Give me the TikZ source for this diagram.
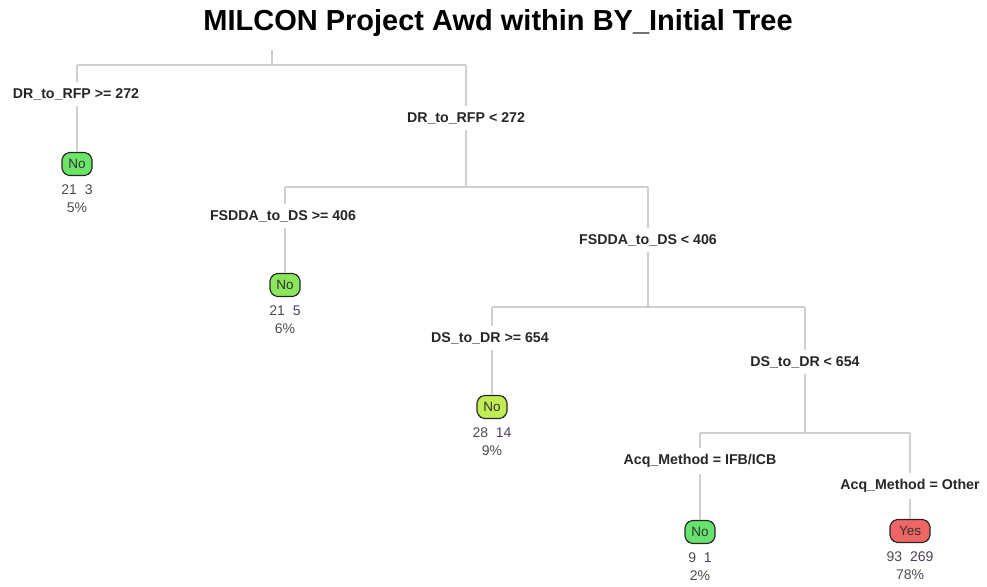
\documentclass[tikz,border=0pt]{standalone}
\usepackage{fontspec}
\setmainfont{Liberation Sans}
\usetikzlibrary{positioning, shapes.misc}
\begin{document}
\begin{tikzpicture}[
  x=1pt, y=-1pt,
  branch/.style={draw=gray!38, line width=1.2pt},
  splitlbl/.style={font=\fontsize{14.2}{16}\selectfont\bfseries, inner xsep=0pt, inner ysep=6pt, text=black!85},
  leafbox/.style={chamfered rectangle, chamfered rectangle xsep=2.5pt, chamfered rectangle sep=2.5pt,
                  draw=black!85, line width=1.1pt, rounded corners=2pt, minimum height=23pt,
                  minimum width=30pt, inner sep=1.5pt, font=\fontsize{13.5}{15}\selectfont, text=black!80},
  cntlbl/.style={font=\fontsize{14}{18}\selectfont, align=center, inner sep=0pt, text=black!70},
  titlelbl/.style={font=\fontsize{29}{32}\selectfont\bfseries},
]

%% ── Colours ──────────────────────────────────────────────────────────────────
\definecolor{noFillA}{RGB}{108,228,104}
\definecolor{noFillB}{RGB}{140,230,92}
\definecolor{noFillC}{RGB}{192,236,84}
\definecolor{noFillD}{RGB}{104,226,110}
\definecolor{yesFill}{RGB}{240,102,100}
\definecolor{cntTwo}{RGB}{78,62,90}

\useasboundingbox (0,0) rectangle (987,586);

%% ── Title ────────────────────────────────────────────────────────────────────
\node[titlelbl] (title) at (498,23) {MILCON Project Awd within BY\_Initial Tree};

%% ── Split 1 — DR_to_RFP ──────────────────────────────────────────────────────
\coordinate (root) at (272,50);
\coordinate (bar1) at (272,65);
\coordinate (bar1l) at (77,65);
\coordinate (bar1r) at (466,65);
\draw[branch] (root) -- (bar1);
\draw[branch] (bar1l) -- (bar1r);

\node[splitlbl] (drHi) at (76,94)  {DR\_to\_RFP >= 272};
\node[splitlbl] (drLo) at (466,118) {DR\_to\_RFP < 272};
\draw[branch] (bar1l) -- (bar1l |- drHi.north);
\draw[branch] (bar1r) -- (drLo.north);

\node[leafbox, fill=noFillA] (leafA) at (77,164) {No};
\node[cntlbl, below=8pt of leafA] (cntA) {21\ \ \textcolor{cntTwo}{3}\\5\%};
\draw[branch] (leafA.north |- drHi.south) -- (leafA.north);

%% ── Split 2 — FSDDA_to_DS ────────────────────────────────────────────────────
\coordinate (bar2) at (466,187);
\coordinate (bar2l) at (285,187);
\coordinate (bar2r) at (648,187);
\draw[branch] (drLo.south) -- (bar2);
\draw[branch] (bar2l) -- (bar2r);

\node[splitlbl] (fsHi) at (283,216) {FSDDA\_to\_DS >= 406};
\node[splitlbl] (fsLo) at (648,240) {FSDDA\_to\_DS < 406};
\draw[branch] (bar2l) -- (bar2l |- fsHi.north);
\draw[branch] (bar2r) -- (fsLo.north);

\node[leafbox, fill=noFillB] (leafB) at (285,285) {No};
\node[cntlbl, below=8pt of leafB] (cntB) {21\ \ \textcolor{cntTwo}{5}\\6\%};
\draw[branch] (leafB.north |- fsHi.south) -- (leafB.north);

%% ── Split 3 — DS_to_DR ───────────────────────────────────────────────────────
\coordinate (bar3) at (648,307);
\coordinate (bar3l) at (492,307);
\coordinate (bar3r) at (805,307);
\draw[branch] (fsLo.south) -- (bar3);
\draw[branch] (bar3l) -- (bar3r);

\node[splitlbl] (dsHi) at (490,338) {DS\_to\_DR >= 654};
\node[splitlbl] (dsLo) at (805,362) {DS\_to\_DR < 654};
\draw[branch] (bar3l) -- (bar3l |- dsHi.north);
\draw[branch] (bar3r) -- (dsLo.north);

\node[leafbox, fill=noFillC] (leafC) at (492,407) {No};
\node[cntlbl, below=8pt of leafC] (cntC) {28\ \ \textcolor{cntTwo}{14}\\9\%};
\draw[branch] (leafC.north |- dsHi.south) -- (leafC.north);

%% ── Split 4 — Acq_Method ─────────────────────────────────────────────────────
\coordinate (bar4) at (805,433);
\coordinate (bar4l) at (700,433);
\coordinate (bar4r) at (910,433);
\draw[branch] (dsLo.south) -- (bar4);
\draw[branch] (bar4l) -- (bar4r);

\node[splitlbl] (acqA) at (700,461) {Acq\_Method = IFB/ICB};
\node[splitlbl] (acqB) at (910,486) {Acq\_Method = Other};
\draw[branch] (bar4l) -- (acqA.north);
\draw[branch] (bar4r) -- (acqB.north);

\node[leafbox, fill=noFillD] (leafD) at (700,532) {No};
\node[cntlbl, below=8pt of leafD] (cntD) {9\ \ \textcolor{cntTwo}{1}\\2\%};
\draw[branch] (acqA.south) -- (leafD.north);

\node[leafbox, fill=yesFill, minimum width=40pt] (leafE) at (910,531) {Yes};
\node[cntlbl, below=8pt of leafE] (cntE) {93\ \ \textcolor{cntTwo}{269}\\78\%};
\draw[branch] (acqB.south) -- (leafE.north);

\end{tikzpicture}
\end{document}
